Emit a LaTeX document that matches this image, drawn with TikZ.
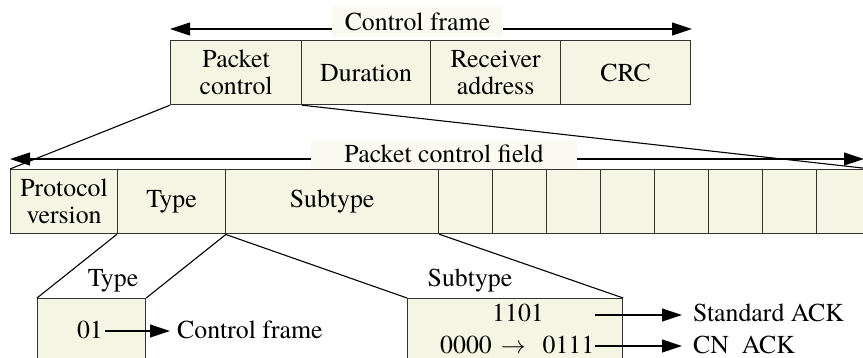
\documentclass[tikz,border=0pt]{standalone}
\usepackage{fontspec}
\setmainfont{TeX Gyre Termes}
\usetikzlibrary{arrows.meta}
\definecolor{cream}{HTML}{F5F5E4}
\definecolor{lblbg}{HTML}{FAFAF3}
\definecolor{edge}{HTML}{333333}
\begin{document}
\begin{tikzpicture}[x=1pt,y=-1pt,
  font=\fontsize{25.8}{27}\selectfont,
  cell/.style={draw=edge, fill=cream, line width=1.2pt, inner sep=0pt, anchor=north west, minimum height=64pt, align=center},
  ln/.style={line width=1.1pt, draw=black},
  arr/.style={line width=1.1pt, -{Triangle[length=20pt,width=13pt]}},
  darr/.style={line width=1.1pt, {Triangle[length=20pt,width=13pt]}-{Triangle[length=20pt,width=13pt]}},
  hdr/.style={fill=lblbg, inner ysep=0pt, text height=24pt, text depth=6pt, anchor=base},
  txt/.style={inner sep=0pt, text height=14pt, text depth=0pt}
]
\useasboundingbox (0,0) rectangle (863,358);
\clip (0,0) rectangle (863,358);

% control frame
\coordinate (cfl) at (170,29);
\coordinate (cfr) at (692,29);
\draw[darr] (cfl) -- (cfr);
\node[hdr, inner xsep=13pt] (cf) at (417.5,31) {Control frame};

\node[cell, minimum width=131pt] (pc) at (170,40) {Packet\\control};
\node[cell, minimum width=129pt] (dur) at (301,40) {Duration};
\node[cell, minimum width=130pt] (ra) at (430,40) {Receiver\\address};
\node[cell, minimum width=130pt] (crc) at (560,40) {CRC};

% packet control field
\coordinate (pfl) at (10,159);
\coordinate (pfr) at (864,159);
\draw[darr] (pfl) -- (pfr);
\node[hdr, inner xsep=33pt, text height=23pt] (pf) at (444,163) {Packet control field};

\node[cell, minimum width=107pt] (pv) at (10,169) {Protocol\\version};
\node[cell, minimum width=108pt] (ty) at (117,169) {Type};
\node[cell, minimum width=213pt] (st) at (225,169) {Subtype};
\foreach \i in {1,...,8} \node[cell, minimum width=54pt] (c\i) at ({384+54*\i},169) {};

\draw[ln] (pc.south west) -- (pv.north west);
\draw[ln] (pc.south east) -- (c8.north east);

% bottom boxes
\node[cell, minimum width=108pt, minimum height=90pt] (tb) at (37,298) {};
\node[cell, minimum width=215pt, minimum height=90pt] (sb) at (407,298) {};
\draw[ln] (ty.south west) -- (tb.north west);
\draw[ln] (ty.south east) -- (tb.north east);
\draw[ln] (st.south west) -- (sb.north west);
\draw[ln] (st.south east) -- (sb.north east);

\node[anchor=base, inner sep=0pt] (tl) at (113,287) {Type};
\node[anchor=base, inner sep=0pt] (sl) at (470,287) {Subtype};

\node[txt, anchor=base east] (t01) at (103,338) {01};
\node[txt, anchor=base west] (tcf) at (177,338) {Control frame};
\draw[arr, shorten <=2pt, shorten >=7pt] (t01.east) -- (tcf.west);

\node[txt, anchor=base] (t1101) at (518,322) {1101};
\node[txt, anchor=base west] (tstd) at (693,322) {Standard ACK};
\node[txt, anchor=base west] (t0000) at (440,353) {0000\hspace{9pt}$\rightarrow$\hspace{17pt}0111};
\node[txt, anchor=base west] (tcn) at (693,353) {CN\ \ ACK};
\draw[arr, shorten <=1pt, shorten >=11pt] (t0000.east |- t1101.east) -- (tstd.west);
\draw[arr, shorten <=1pt, shorten >=11pt] (t0000.east) -- (tcn.west);
\end{tikzpicture}
\end{document}
